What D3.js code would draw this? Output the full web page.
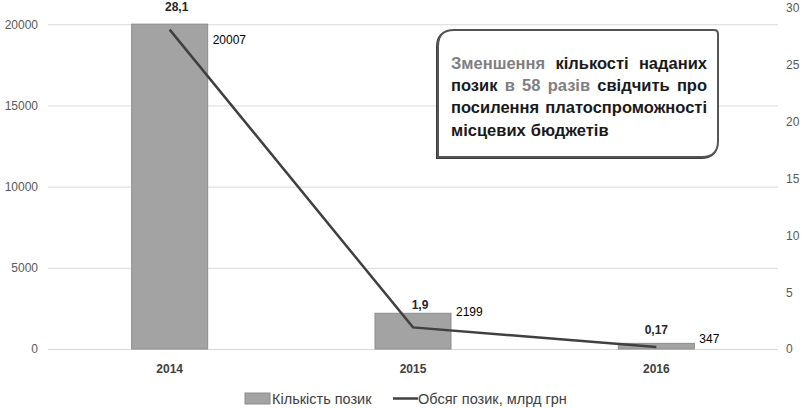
<!DOCTYPE html>
<html>
<head>
<meta charset="utf-8">
<script src="https://cdn.jsdelivr.net/npm/d3@7"></script>
<style>
  body { margin: 0; background: #fff; }
  svg { display: block; }
  .tick text { font-family: "Liberation Sans", Arial, sans-serif; font-size: 12px; fill: #595959; }
</style>
</head>
<body>
<div id="chart"></div>
<script>
var years = ["2014", "2015", "2016"];
var loanCounts = [20007, 2199, 347];
var loanVolumes = [28.1, 1.9, 0.17];
var volumeLabels = ["28,1", "1,9", "0,17"];
var leftTicks = [0, 5000, 10000, 15000, 20000];
var rightTicks = [0, 5, 10, 15, 20, 25, 30];
var legendNames = ["Кількість позик", "Обсяг позик, млрд грн"];
var noteLines = [
    [{t: "Зменшення", g: true}, {t: "кількості"}, {t: "наданих"}],
    [{t: "позик"}, {t: "в", g: true}, {t: "58", g: true}, {t: "разів", g: true}, {t: "свідчить"}, {t: "про"}],
    [{t: "посилення"}, {t: "платоспроможності"}],
    [{t: "місцевих"}, {t: "бюджетів"}]
];

var W = 802, H = 408;
var margin = {top: 8, right: 24, bottom: 59, left: 48};
var width = W - margin.left - margin.right,
    height = H - margin.top - margin.bottom;

var svg = d3.select("#chart").append("svg")
    .attr("width", W)
    .attr("height", H);

var g = svg.append("g")
    .attr("transform", "translate(" + margin.left + "," + margin.top + ")");

var x = d3.scaleBand()
    .domain(years)
    .range([0, width]);

var yLeft = d3.scaleLinear()
    .domain([0, 21000])
    .range([height, 0]);

var yRight = d3.scaleLinear()
    .domain([0, 30])
    .range([height, 0]);

// gridlines
g.selectAll(".grid")
    .data(leftTicks)
    .enter().append("line")
    .attr("class", "grid")
    .attr("x1", 0)
    .attr("x2", width)
    .attr("y1", function (d) { return yLeft(d) + 0.5; })
    .attr("y2", function (d) { return yLeft(d) + 0.5; })
    .style("stroke", "#d9d9d9")
    .style("stroke-width", 1);

// axes
var leftAxis = g.append("g")
    .call(d3.axisLeft(yLeft).tickValues(leftTicks).tickFormat(d3.format("d")).tickSize(0).tickPadding(10));
leftAxis.select(".domain").remove();

var rightAxis = g.append("g")
    .attr("transform", "translate(" + width + ",0)")
    .call(d3.axisRight(yRight).tickValues(rightTicks).tickSize(0).tickPadding(8));
rightAxis.select(".domain").remove();

var bottomAxis = g.append("g")
    .attr("transform", "translate(0," + height + ")")
    .call(d3.axisBottom(x).tickSize(0).tickPadding(15));
bottomAxis.select(".domain").remove();
bottomAxis.selectAll("text")
    .style("font-weight", "bold")
    .style("fill", "#404040");

// bars
var barW = 76;
g.selectAll(".bar")
    .data(loanCounts)
    .enter().append("rect")
    .attr("class", "bar")
    .attr("x", function (d, i) { return x(years[i]) + x.bandwidth() / 2 - barW / 2; })
    .attr("y", function (d) { return yLeft(d); })
    .attr("width", barW)
    .attr("height", function (d) { return height - yLeft(d); })
    .style("fill", "#a3a3a3")
    .style("stroke", "#8c8c8c")
    .style("stroke-width", 1);

var barLabelDy = [20, 3, 0];
g.selectAll(".bar-label")
    .data(loanCounts)
    .enter().append("text")
    .attr("class", "bar-label")
    .attr("x", function (d, i) { return x(years[i]) + x.bandwidth() / 2 + barW / 2 + 5; })
    .attr("y", function (d, i) { return yLeft(d) + barLabelDy[i]; })
    .style("font-family", "Liberation Sans, Arial, sans-serif")
    .style("font-size", "12px")
    .style("fill", "#000")
    .text(function (d) { return d; });

// line
var line = d3.line()
    .x(function (d, i) { return x(years[i]) + x.bandwidth() / 2; })
    .y(function (d) { return yRight(d); });

g.append("path")
    .datum(loanVolumes)
    .attr("d", line)
    .style("fill", "none")
    .style("stroke", "#404040")
    .style("stroke-width", 2.5);

var lineLabelDx = [7, 7, 0];
var lineLabelDy = [-19, -18, -13];
g.selectAll(".line-label")
    .data(loanVolumes)
    .enter().append("text")
    .attr("class", "line-label")
    .attr("x", function (d, i) { return x(years[i]) + x.bandwidth() / 2 + lineLabelDx[i]; })
    .attr("y", function (d, i) { return yRight(d) + lineLabelDy[i]; })
    .attr("text-anchor", "middle")
    .style("font-family", "Liberation Sans, Arial, sans-serif")
    .style("font-size", "12px")
    .style("font-weight", "bold")
    .style("fill", "#262626")
    .text(function (d, i) { return volumeLabels[i]; });

// legend
var legend = svg.append("g")
    .attr("transform", "translate(245,399)");

legend.append("rect")
    .attr("x", 0)
    .attr("y", -6)
    .attr("width", 25)
    .attr("height", 11)
    .style("fill", "#a3a3a3")
    .style("stroke", "#8c8c8c");

legend.append("text")
    .attr("x", 27)
    .attr("y", 5)
    .style("font-family", "Liberation Sans, Arial, sans-serif")
    .style("font-size", "14.5px")
    .style("fill", "#404040")
    .text(legendNames[0]);

legend.append("line")
    .attr("x1", 148)
    .attr("x2", 173)
    .attr("y1", -0.5)
    .attr("y2", -0.5)
    .style("stroke", "#404040")
    .style("stroke-width", 2.5);

legend.append("text")
    .attr("x", 173)
    .attr("y", 5)
    .style("font-family", "Liberation Sans, Arial, sans-serif")
    .style("font-size", "14.5px")
    .style("fill", "#404040")
    .text(legendNames[1]);

// note box
var bx = 438, by = 30, bw = 280, bh = 127, r = 16;
var boxPath = "M" + (bx + r) + "," + by +
    " L" + (bx + bw - 4) + "," + by +
    " Q" + (bx + bw) + "," + by + " " + (bx + bw) + "," + (by + 4) +
    " L" + (bx + bw) + "," + (by + bh - r) +
    " Q" + (bx + bw) + "," + (by + bh) + " " + (bx + bw - r) + "," + (by + bh) +
    " L" + bx + "," + (by + bh) +
    " L" + bx + "," + (by + r) +
    " Q" + bx + "," + by + " " + (bx + r) + "," + by + " Z";

svg.append("path")
    .attr("d", boxPath)
    .attr("transform", "translate(-1,1)")
    .style("fill", "none")
    .style("stroke", "#3a3a3a")
    .style("stroke-width", 2);

svg.append("path")
    .attr("d", boxPath)
    .style("fill", "#fff")
    .style("stroke", "#555")
    .style("stroke-width", 2);

var textLeft = 451, textRight = 707;
var lineY = [69, 91, 113, 136];

noteLines.forEach(function (words, li) {
    var txt = svg.append("g");
    var nodes = words.map(function (w) {
        return txt.append("text")
            .attr("y", lineY[li])
            .style("font-family", "Liberation Sans, Arial, sans-serif")
            .style("font-size", "16.5px")
            .style("font-weight", "bold")
            .style("fill", w.g ? "#7f7f7f" : "#1a1a1a")
            .text(w.t);
    });
    var widths = nodes.map(function (n) { return n.node().getComputedTextLength(); });
    var total = d3.sum(widths);
    var gap = (li < noteLines.length - 1 && words.length > 1)
        ? (textRight - textLeft - total) / (words.length - 1)
        : 5;
    var cx = textLeft;
    nodes.forEach(function (n, i) {
        n.attr("x", cx);
        cx += widths[i] + gap;
    });
});
</script>
</body>
</html>
